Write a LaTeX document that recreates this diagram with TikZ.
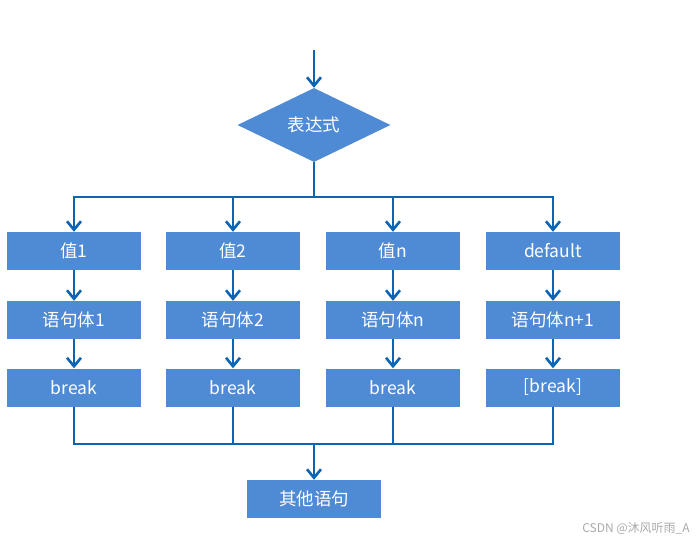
\documentclass[tikz,border=0pt]{standalone}
\usepackage{fontspec}
\setmainfont{Noto Sans CJK SC}
\usetikzlibrary{arrows.meta,shapes.geometric}
\definecolor{boxblue}{RGB}{79,139,212}
\definecolor{lineblue}{RGB}{12,100,180}
\definecolor{wmgray}{RGB}{170,170,170}
\begin{document}
\begin{tikzpicture}[x=1pt,y=-1pt,
  box/.style={fill=boxblue, minimum width=134pt, minimum height=38pt, inner sep=0pt, text=white, font=\fontsize{17.5}{20}\selectfont},
  dec/.style={diamond, fill=boxblue, minimum width=153pt, minimum height=74pt, aspect=2.07, inner sep=0pt, text=white, font=\fontsize{17.5}{20}\selectfont},
  conn/.style={draw=lineblue, line width=2.6pt},
  arr/.style={conn, -{Straight Barb[length=8.5pt,width=14pt,line width=2.6pt]}}
]
\useasboundingbox[fill=white] (0,0) rectangle (698,543);
\coordinate (start) at (314,50);
\node[dec] (d) at (314,125) {表达式};
\coordinate (split) at (314,197);
\coordinate (merge) at (314,444);

\node[box] (v1) at (74,251) {值1};
\node[box] (v2) at (233,251) {值2};
\node[box] (v3) at (393,251) {值n};
\node[box] (v4) at (553,251) {default};

\node[box] (s1) at (74,320) {语句体1};
\node[box] (s2) at (233,320) {语句体2};
\node[box] (s3) at (393,320) {语句体n};
\node[box] (s4) at (553,320) {语句体n+1};

\node[box] (b1) at (74,387.5) {break};
\node[box] (b2) at (233,387.5) {break};
\node[box] (b3) at (393,387.5) {break};
\node[box] (b4) at (553,387.5) {[break]};

\node[box] (o) at (314,499) {其他语句};

\node[text=wmgray, font=\fontsize{12}{14}\selectfont] (wm) at (636,529) {CSDN @沐风听雨\_A};

\draw[arr] (start) -- (d.north);
\draw[conn] (d.south) -- (split);
\foreach \k in {1,2,3,4} {
  \draw[arr] (split) -| (v\k.north);
  \draw[arr] (v\k.south) -- (s\k.north);
  \draw[arr] (s\k.south) -- (b\k.north);
  \draw[conn] (b\k.south) |- (merge);
}
\draw[arr] (merge) -- (o.north);
\end{tikzpicture}
\end{document}
